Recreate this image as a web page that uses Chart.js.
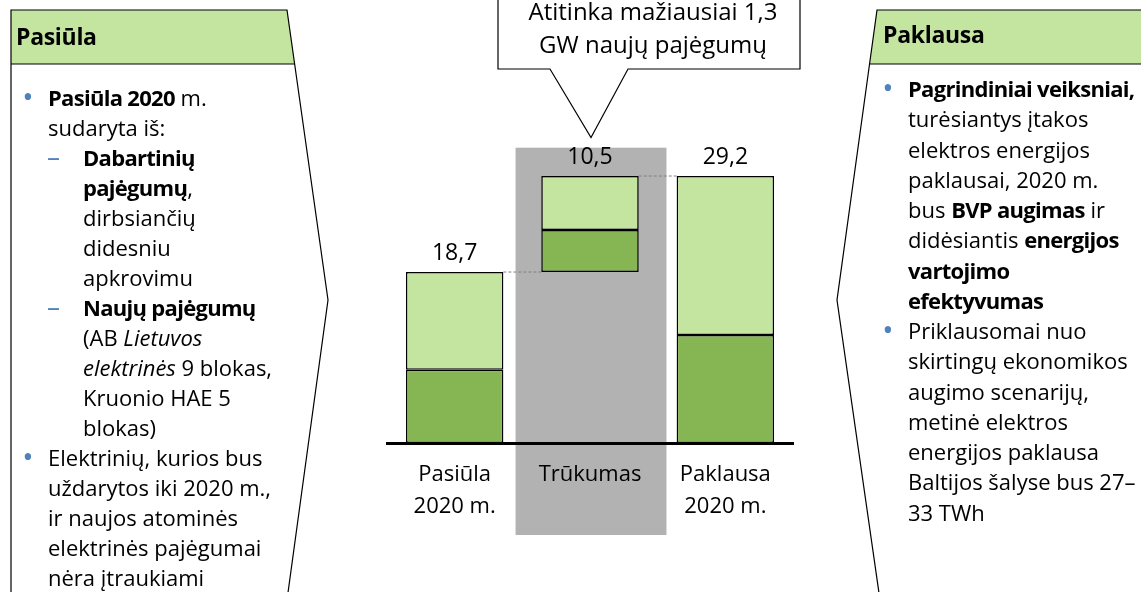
<!DOCTYPE html>
<html lang="lt">
<head>
<meta charset="utf-8">
<title>Pasiūla ir paklausa 2020 m.</title>
<script src="https://cdn.jsdelivr.net/npm/chart.js@4/dist/chart.umd.min.js"></script>
<style>
    body { margin: 0; background: #fff; overflow: hidden; }
    #wrap { position: relative; width: 1141px; height: 592px; font-family: 'Open Sans', sans-serif; color: #000; }
    #chart { position: absolute; left: 0; top: 0; }
    .txt { position: absolute; font-size: 22px; white-space: nowrap; }
    .txt b { font-weight: 700; letter-spacing: -0.7px; }
    .head { position: absolute; font-size: 23px; font-weight: 700; letter-spacing: -0.3px; }
    .bul { position: absolute; color: #4F81BD; font-size: 30px; width: 16px; text-align: center; }
    .dash { position: absolute; color: #4F81BD; font-size: 26px; }
    .callout { position: absolute; left: 500px; width: 306px; top: -6px; text-align: center; font-size: 24px; line-height: 33px; }
</style>
</head>
<body>
<div id="wrap">
    <canvas id="chart" width="1141" height="592"></canvas>

    <!-- left panel -->
    <div class="head" style="left:16px; top:20px;">Pasiūla</div>
    <div class="bul" style="left:20px; top:81px; line-height:30px;">•</div>
    <div class="txt" style="left:48px; top:82px; line-height:30px;"><b>Pasiūla 2020</b> m.<br>sudaryta iš:</div>
    <div class="dash" style="left:47px; top:141px; line-height:30px;">–</div>
    <div class="txt" style="left:83px; top:142px; line-height:30px;"><b>Dabartinių</b><br><b>pajėgumų</b>,<br>dirbsiančių<br>didesniu<br>apkrovimu</div>
    <div class="dash" style="left:47px; top:291px; line-height:30px;">–</div>
    <div class="txt" style="left:83px; top:292px; line-height:30px;"><b>Naujų pajėgumų</b><br>(AB <i>Lietuvos</i><br><i>elektrinės</i> 9 blokas,<br>Kruonio HAE 5<br>blokas)</div>
    <div class="bul" style="left:20px; top:441px; line-height:30px;">•</div>
    <div class="txt" style="left:48px; top:442px; line-height:30px;">Elektrinių, kurios bus<br>uždarytos iki 2020 m.,<br>ir naujos atominės<br>elektrinės pajėgumai<br>nėra įtraukiami</div>

    <!-- right panel -->
    <div class="head" style="left:883px; top:18px;">Paklausa</div>
    <div class="bul" style="left:880px; top:72px; line-height:30.3px;">•</div>
    <div class="txt" style="left:908px; top:73px; line-height:30.3px;"><b>Pagrindiniai veiksniai,</b><br>turėsiantys įtakos<br>elektros energijos<br>paklausai, 2020 m.<br>bus <b>BVP augimas</b> ir<br>didėsiantis <b>energijos</b><br><b>vartojimo</b><br><b>efektyvumas</b></div>
    <div class="bul" style="left:880px; top:314px; line-height:30.3px;">•</div>
    <div class="txt" style="left:908px; top:315px; line-height:30.3px;">Priklausomai nuo<br>skirtingų ekonomikos<br>augimo scenarijų,<br>metinė elektros<br>energijos paklausa<br>Baltijos šalyse bus 27–<br>33 TWh</div>

    <div class="callout">Atitinka mažiausiai 1,3<br>GW naujų pajėgumų</div>
</div>

<script>
// Chart data
const categories = [['Pasiūla', '2020 m.'], ['Trūkumas'], ['Paklausa', '2020 m.']];
const baseValues = [0, 18.7, 0];
const darkValues = [8.0, 4.6, 11.8];
const lightValues = [10.7, 5.9, 17.4];

const lightGreen = '#C3E5A0';
const darkGreen = '#86B553';

function fmt(v) {
    return v.toFixed(1).replace('.', ',');
}

// panels, gray band and callout shape
const decorPlugin = {
    id: 'decor',
    beforeDraw(chart) {
        const ctx = chart.ctx;
        const x = chart.scales.x;
        const y = chart.scales.y;
        const cat = x.getPixelForValue(1) - x.getPixelForValue(0);

        ctx.save();
        // left panel
        ctx.beginPath();
        ctx.moveTo(11, 10); ctx.lineTo(287, 10); ctx.lineTo(294.6, 64); ctx.lineTo(11, 64);
        ctx.closePath();
        ctx.fillStyle = lightGreen;
        ctx.fill();
        ctx.beginPath();
        ctx.moveTo(11, 10); ctx.lineTo(287, 10); ctx.lineTo(328, 300); ctx.lineTo(287, 600); ctx.lineTo(11, 600);
        ctx.closePath();
        ctx.moveTo(11, 64); ctx.lineTo(294.6, 64);
        ctx.strokeStyle = '#000';
        ctx.lineWidth = 1.2;
        ctx.stroke();

        // right panel
        ctx.beginPath();
        ctx.moveTo(877, 10); ctx.lineTo(1150, 10); ctx.lineTo(1150, 64); ctx.lineTo(869.5, 64);
        ctx.closePath();
        ctx.fillStyle = lightGreen;
        ctx.fill();
        ctx.beginPath();
        ctx.moveTo(1150, 10); ctx.lineTo(877, 10); ctx.lineTo(837, 300); ctx.lineTo(880, 600);
        ctx.moveTo(869.5, 64); ctx.lineTo(1150, 64);
        ctx.stroke();

        // gray band behind the middle bar
        const cx = x.getPixelForValue(1);
        const top = y.getPixelForValue(32.3);
        ctx.fillStyle = '#B2B2B2';
        ctx.fillRect(cx - 0.55 * cat, top, 1.115 * cat, chart.chartArea.bottom + 92 - top);

        // callout
        const tipY = y.getPixelForValue(33.4);
        ctx.beginPath();
        ctx.moveTo(498, -5); ctx.lineTo(800, -5); ctx.lineTo(800, 69); ctx.lineTo(628, 69);
        ctx.lineTo(cx + 1, tipY); ctx.lineTo(550, 69); ctx.lineTo(498, 69);
        ctx.closePath();
        ctx.fillStyle = '#fff';
        ctx.fill();
        ctx.lineWidth = 1.2;
        ctx.stroke();
        ctx.restore();
    },
    afterDatasetsDraw(chart) {
        const ctx = chart.ctx;
        const top = chart.getDatasetMeta(2).data;
        ctx.save();
        // dashed connectors
        ctx.strokeStyle = '#808080';
        ctx.lineWidth = 1;
        ctx.setLineDash([3, 2]);
        for (let i = 0; i < top.length - 1; i++) {
            const a = top[i];
            const b = top[i + 1];
            const yy = i === 0 ? a.y : b.y;
            ctx.beginPath();
            ctx.moveTo(a.x + a.width / 2, yy);
            ctx.lineTo(b.x - b.width / 2, yy);
            ctx.stroke();
        }
        ctx.setLineDash([]);
        // totals above bars
        ctx.fillStyle = '#000';
        ctx.font = '23px "Open Sans"';
        ctx.textAlign = 'center';
        ctx.textBaseline = 'middle';
        top.forEach((el, i) => {
            ctx.fillText(fmt(darkValues[i] + lightValues[i]), el.x, el.y - 19);
        });
        ctx.restore();
    }
};

new Chart(document.getElementById('chart'), {
    type: 'bar',
    data: {
        labels: categories,
        datasets: [
            { data: baseValues, backgroundColor: 'rgba(0,0,0,0)', borderWidth: 0 },
            { data: darkValues, backgroundColor: darkGreen, borderColor: '#000', borderWidth: 1.5, borderSkipped: false },
            { data: lightValues, backgroundColor: lightGreen, borderColor: '#000', borderWidth: 1.5, borderSkipped: false }
        ]
    },
    options: {
        responsive: false,
        animation: false,
        events: [],
        layout: { padding: { left: 387, right: 348, top: 123, bottom: 0 } },
        datasets: { bar: { categoryPercentage: 1, barPercentage: 0.72 } },
        plugins: { legend: { display: false }, tooltip: { enabled: false } },
        scales: {
            x: {
                stacked: true,
                grid: { display: false, drawTicks: false },
                border: { display: true, color: '#000', width: 3 },
                ticks: { color: '#000', padding: 16, font: { family: 'Open Sans', size: 22, lineHeight: 1.45 } },
                afterFit(scale) { scale.height = 149; }
            },
            y: { stacked: true, display: false, min: 0, max: 35 }
        }
    },
    plugins: [decorPlugin]
});
</script>
</body>
</html>
